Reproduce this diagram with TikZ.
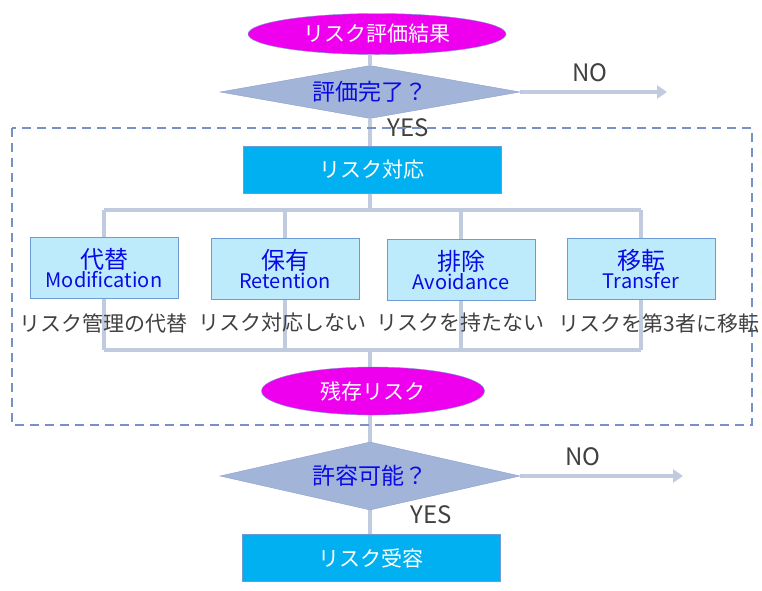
\documentclass[tikz,border=0pt]{standalone}
\usepackage{fontspec}
\setmainfont{Noto Sans CJK JP}
\usetikzlibrary{shapes.geometric,arrows.meta,backgrounds}

\definecolor{kekka}{RGB}{238,0,238}
\definecolor{hishi}{RGB}{163,180,217}
\definecolor{hishisen}{RGB}{140,160,205}
\definecolor{sen}{RGB}{192,203,224}
\definecolor{waku}{RGB}{118,145,198}
\definecolor{ao}{RGB}{0,176,240}
\definecolor{mizu}{RGB}{190,235,252}
\definecolor{fuchi}{RGB}{110,155,212}
\definecolor{moji}{RGB}{64,64,64}
\definecolor{aomoji}{RGB}{10,10,230}

\newcommand\optlabel[2]{{\fontsize{24}{26}\selectfont #1}\\{\fontsize{20}{26}\selectfont #2}}

\tikzset{
  endcap/.style={ellipse, fill=kekka, draw=fuchi, text=white, inner sep=0pt,
    font=\fontsize{21}{24}\selectfont},
  check/.style={diamond, fill=hishi, draw=hishisen, text=aomoji, inner sep=0pt,
    minimum width=300pt, font=\fontsize{23}{26}\selectfont},
  mainbox/.style={rectangle, fill=ao, draw=fuchi, text=white, inner sep=0pt,
    minimum width=258pt, minimum height=47pt, font=\fontsize{21}{24}\selectfont},
  optbox/.style={rectangle, fill=mizu, draw=fuchi, text=aomoji, inner sep=0pt,
    minimum width=148pt, minimum height=61pt, align=center},
  note/.style={text=moji, inner sep=0pt, font=\fontsize{21}{24}\selectfont},
  yesno/.style={text=moji, inner sep=0pt, font=\fontsize{24}{28}\selectfont},
  link/.style={sen, line width=3.5pt},
  nolink/.style={link, -{Triangle[length=10pt,width=13pt]}}
}

\begin{document}
\begin{tikzpicture}[x=1pt, y={(0pt,-1pt)}]
    \useasboundingbox (0,0) rectangle (762,590);

    % 評価
    \node[endcap, minimum width=258pt, minimum height=41pt] (kekka) at (377,34) {リスク評価結果};
    \node[check, minimum height=53pt, aspect=5.66] (kanryo) at (370,92) {評価完了？};
    \coordinate (kanryoNo) at (667,92);
    \node[yesno] (no1) at (590,73) {NO};
    \node[yesno] (yes1) at (408,128) {YES};

    % 対応（点線の枠）
    \draw[waku, line width=2pt, dash pattern=on 9pt off 6pt] (12,128) rectangle (752,425);
    \node[mainbox] (taio) at (372,170) {リスク対応};
    \coordinate (busUe) at (370,210);
    \coordinate (busShita) at (370,350);

    \node[optbox] (opt1) at (104,268) {\optlabel{代替}{Modification}};
    \node[optbox] (opt2) at (285,269) {\optlabel{保有}{Retention}};
    \node[optbox] (opt3) at (461,270) {\optlabel{排除}{Avoidance}};
    \node[optbox] (opt4) at (641,269) {\optlabel{移転}{Transfer}};

    \node[note] (setsu1) at (103,323) {リスク管理の代替};
    \node[note] (setsu2) at (282,323) {リスク対応しない};
    \node[note] (setsu3) at (460,323) {リスクを持たない};
    \node[note] (setsu4) at (659,323) {リスクを第3者に移転};

    \node[endcap, minimum width=223pt, minimum height=48pt] (zanzon) at (373,391) {残存リスク};

    % 受容
    \node[check, minimum height=68pt, aspect=4.41] (kyoyo) at (370,476) {許容可能？};
    \coordinate (kyoyoNo) at (683,476);
    \node[yesno] (no2) at (583,457) {NO};
    \node[yesno] (yes2) at (431,515) {YES};
    \node[mainbox] (juyo) at (371,558) {リスク受容};

    % 線
    \begin{scope}[on background layer]
        \draw[link] (kanryo.north |- kekka.south) -- (kanryo.north);
        \draw[link] (kanryo.south) -- (taio.north -| kanryo.south);
        \draw[nolink] (kanryo.east) -- (kanryoNo);
        \draw[link] (taio.south -| busUe) -- (busUe);
        \draw[link] (opt1 |- busUe) -- (opt4 |- busUe);
        \draw[link] (opt1 |- busShita) -- (opt4 |- busShita);
        \foreach \i in {1,...,4}
            \draw[link] (opt\i |- busUe) -- (opt\i |- busShita);
        \draw[link] (busShita) -- (zanzon.north -| busShita);
        \draw[link] (zanzon.south -| kyoyo.north) -- (kyoyo.north);
        \draw[link] (kyoyo.south) -- (juyo.north -| kyoyo.south);
        \draw[nolink] (kyoyo.east) -- (kyoyoNo);
    \end{scope}
\end{tikzpicture}
\end{document}
